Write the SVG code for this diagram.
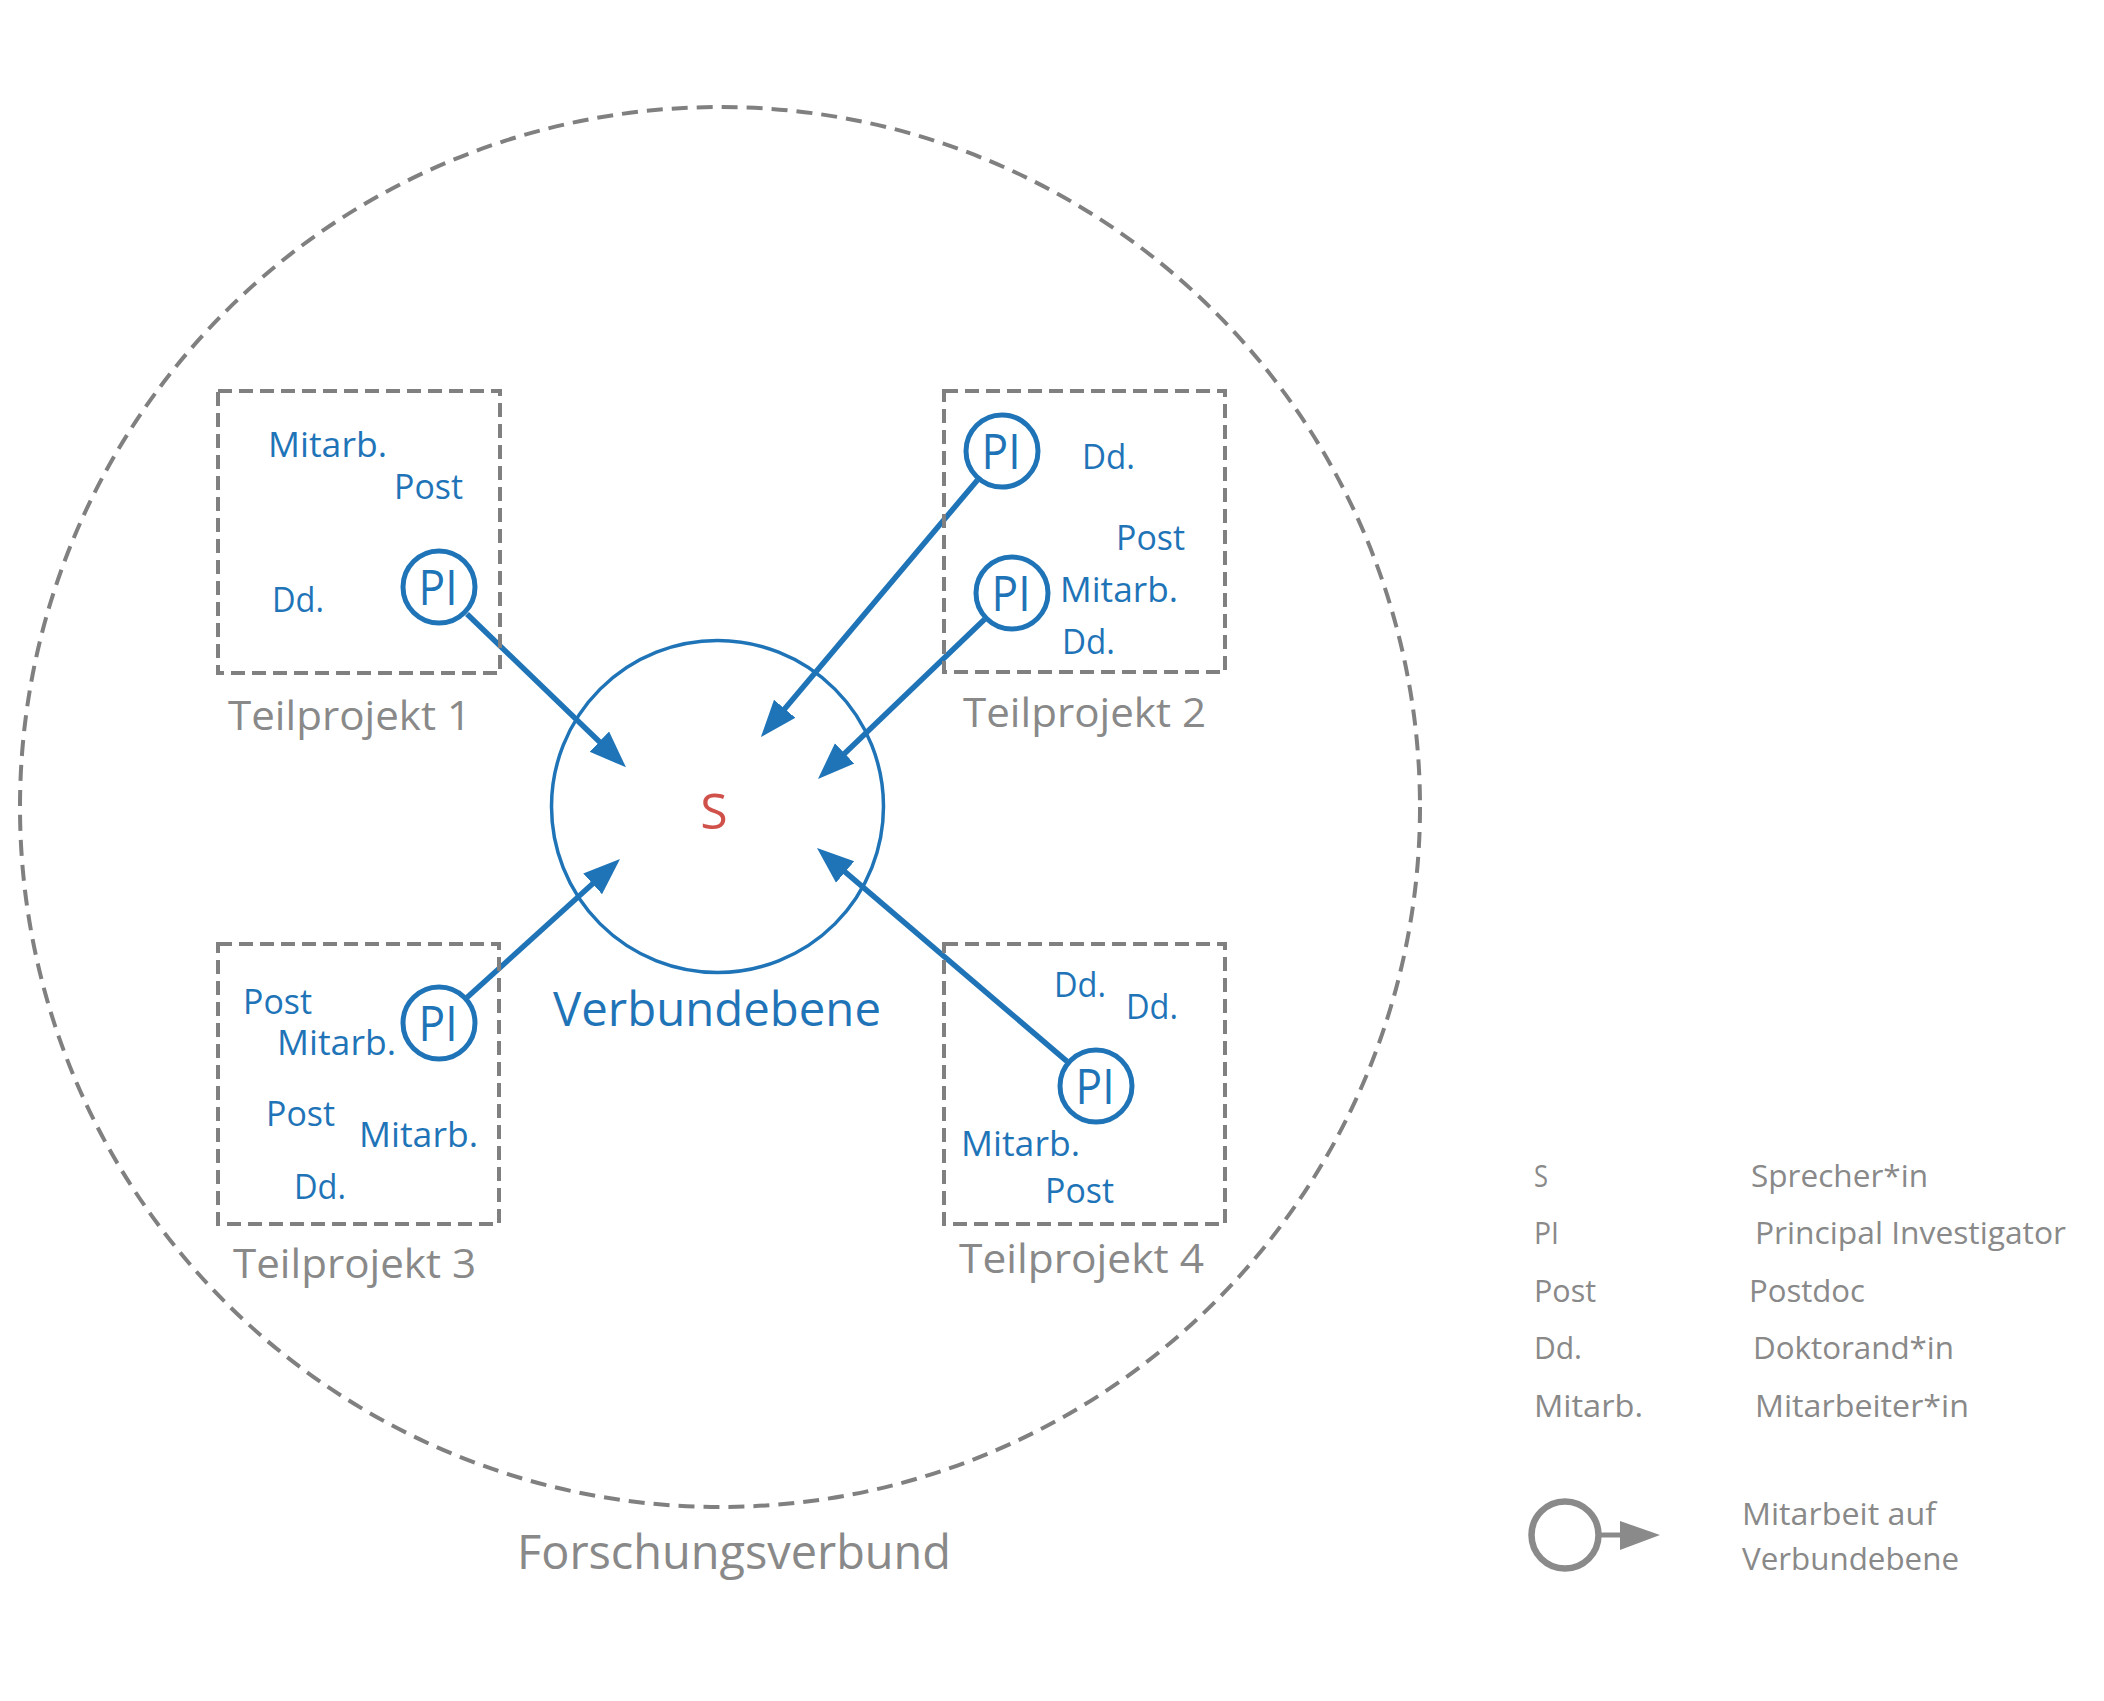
<svg xmlns="http://www.w3.org/2000/svg" width="2104" height="1701" viewBox="0 0 2104 1701">
<style>
.dash{fill:none;stroke:#808080;stroke-width:4;stroke-dasharray:14 7}
.big{fill:none;stroke:#808080;stroke-width:4;stroke-dasharray:16 9}
.lbl{font-family:"Open Sans","Noto Sans",sans-serif;font-size:35px;fill:#1f74b8}
.pi{font-family:"Open Sans","Noto Sans",sans-serif;font-size:50px;fill:#1f74b8;text-anchor:middle}
.tp{font-family:"Open Sans","Noto Sans",sans-serif;font-size:41px;fill:#898989}
.leg{font-family:"Open Sans","Noto Sans",sans-serif;font-size:31px;fill:#898989}
.picirc{fill:#ffffff;stroke:#1f74b8;stroke-width:5}
.conn{stroke:#1f74b8;stroke-width:5.5;fill:none;marker-end:url(#ah)}
</style>
<defs>
<marker id="ah" markerUnits="userSpaceOnUse" markerWidth="38" markerHeight="30" refX="12" refY="14" orient="auto" viewBox="0 0 38 28">
<path d="M0,0 L37,14 L0,28 Z" fill="#1f74b8"/>
</marker>
</defs>
<rect width="2104" height="1701" fill="#ffffff"/>

<g id="forschungsverbund">
<ellipse class="big" cx="720" cy="807" rx="700" ry="700"/>
<text class="tp" x="517" y="1569" style="font-size:48px" textLength="434" lengthAdjust="spacingAndGlyphs">Forschungsverbund</text>
</g>

<g id="verbundebene">
<circle cx="717.5" cy="806.5" r="166" fill="none" stroke="#1f74b8" stroke-width="3.5"/>
<text x="714" y="829" font-family="Open Sans, Noto Sans, sans-serif" font-size="50" fill="#d0504a" text-anchor="middle">S</text>
<text class="lbl" x="553" y="1026" style="font-size:47px" textLength="328" lengthAdjust="spacingAndGlyphs">Verbundebene</text>
</g>

<g id="connectors">
<line class="conn" x1="467" y1="614" x2="608" y2="750"/>
<line class="conn" x1="977.5" y1="480" x2="777" y2="718"/>
<line class="conn" x1="984.6" y1="619.3" x2="836" y2="761.7"/>
<line class="conn" x1="467" y1="997.5" x2="601.5" y2="875.8"/>
<line class="conn" x1="1067" y1="1061.3" x2="836" y2="864.2"/>
</g>

<g id="teilprojekt1">
<rect class="dash" x="218" y="391" width="282" height="282"/>
<text class="lbl" x="268" y="457" textLength="119" lengthAdjust="spacingAndGlyphs">Mitarb.</text>
<text class="lbl" x="394" y="499" textLength="69" lengthAdjust="spacingAndGlyphs">Post</text>
<text class="lbl" x="272" y="612" textLength="52" lengthAdjust="spacingAndGlyphs">Dd.</text>
<circle class="picirc" cx="439" cy="587" r="36"/>
<text class="pi" x="438" y="605" textLength="39" lengthAdjust="spacingAndGlyphs">PI</text>
<text class="tp" x="228" y="730" textLength="243" lengthAdjust="spacingAndGlyphs">Teilprojekt 1</text>
</g>

<g id="teilprojekt2">
<rect class="dash" x="944" y="391" width="281" height="281"/>
<circle class="picirc" cx="1002" cy="451" r="36"/>
<text class="pi" x="1001" y="469" textLength="39" lengthAdjust="spacingAndGlyphs">PI</text>
<circle class="picirc" cx="1012" cy="593" r="36"/>
<text class="pi" x="1011" y="611" textLength="39" lengthAdjust="spacingAndGlyphs">PI</text>
<text class="lbl" x="1082" y="469" textLength="53" lengthAdjust="spacingAndGlyphs">Dd.</text>
<text class="lbl" x="1116" y="550" textLength="69" lengthAdjust="spacingAndGlyphs">Post</text>
<text class="lbl" x="1060" y="602" textLength="118" lengthAdjust="spacingAndGlyphs">Mitarb.</text>
<text class="lbl" x="1062" y="654" textLength="53" lengthAdjust="spacingAndGlyphs">Dd.</text>
<text class="tp" x="963" y="727" textLength="243" lengthAdjust="spacingAndGlyphs">Teilprojekt 2</text>
</g>

<g id="teilprojekt3">
<rect class="dash" x="218" y="944" width="281" height="280"/>
<circle class="picirc" cx="439" cy="1023" r="36"/>
<text class="pi" x="438" y="1041" textLength="39" lengthAdjust="spacingAndGlyphs">PI</text>
<text class="lbl" x="243" y="1014" textLength="69" lengthAdjust="spacingAndGlyphs">Post</text>
<text class="lbl" x="277" y="1055" textLength="119" lengthAdjust="spacingAndGlyphs">Mitarb.</text>
<text class="lbl" x="266" y="1126" textLength="69" lengthAdjust="spacingAndGlyphs">Post</text>
<text class="lbl" x="359" y="1147" textLength="119" lengthAdjust="spacingAndGlyphs">Mitarb.</text>
<text class="lbl" x="294" y="1199" textLength="52" lengthAdjust="spacingAndGlyphs">Dd.</text>
<text class="tp" x="233" y="1278" textLength="243" lengthAdjust="spacingAndGlyphs">Teilprojekt 3</text>
</g>

<g id="teilprojekt4">
<rect class="dash" x="944" y="944" width="281" height="280"/>
<circle class="picirc" cx="1096" cy="1086" r="36"/>
<text class="pi" x="1095" y="1104" textLength="39" lengthAdjust="spacingAndGlyphs">PI</text>
<text class="lbl" x="1054" y="997" textLength="52" lengthAdjust="spacingAndGlyphs">Dd.</text>
<text class="lbl" x="1126" y="1019" textLength="52" lengthAdjust="spacingAndGlyphs">Dd.</text>
<text class="lbl" x="961" y="1156" textLength="119" lengthAdjust="spacingAndGlyphs">Mitarb.</text>
<text class="lbl" x="1045" y="1203" textLength="69" lengthAdjust="spacingAndGlyphs">Post</text>
<text class="tp" x="959" y="1273" textLength="245" lengthAdjust="spacingAndGlyphs">Teilprojekt 4</text>
</g>

<g id="legende">
<text class="leg" x="1534" y="1187" textLength="14" lengthAdjust="spacingAndGlyphs">S</text>
<text class="leg" x="1751" y="1187" textLength="177" lengthAdjust="spacingAndGlyphs">Sprecher*in</text>
<text class="leg" x="1534" y="1244" textLength="25" lengthAdjust="spacingAndGlyphs">PI</text>
<text class="leg" x="1755" y="1244" textLength="311" lengthAdjust="spacingAndGlyphs">Principal Investigator</text>
<text class="leg" x="1534" y="1302" textLength="62" lengthAdjust="spacingAndGlyphs">Post</text>
<text class="leg" x="1749" y="1302" textLength="116" lengthAdjust="spacingAndGlyphs">Postdoc</text>
<text class="leg" x="1534" y="1359" textLength="48" lengthAdjust="spacingAndGlyphs">Dd.</text>
<text class="leg" x="1753" y="1359" textLength="201" lengthAdjust="spacingAndGlyphs">Doktorand*in</text>
<text class="leg" x="1534" y="1417" textLength="109" lengthAdjust="spacingAndGlyphs">Mitarb.</text>
<text class="leg" x="1755" y="1417" textLength="214" lengthAdjust="spacingAndGlyphs">Mitarbeiter*in</text>
<circle cx="1565" cy="1535" r="33.5" fill="none" stroke="#8a8a8a" stroke-width="6.5"/>
<line x1="1601" y1="1535" x2="1622" y2="1535" stroke="#8a8a8a" stroke-width="5"/>
<path d="M1620,1521 L1660,1535 L1620,1550 Z" fill="#8a8a8a"/>
<text class="leg" x="1742" y="1525" textLength="194" lengthAdjust="spacingAndGlyphs">Mitarbeit auf</text>
<text class="leg" x="1742" y="1570" textLength="217" lengthAdjust="spacingAndGlyphs">Verbundebene</text>
</g>
</svg>
